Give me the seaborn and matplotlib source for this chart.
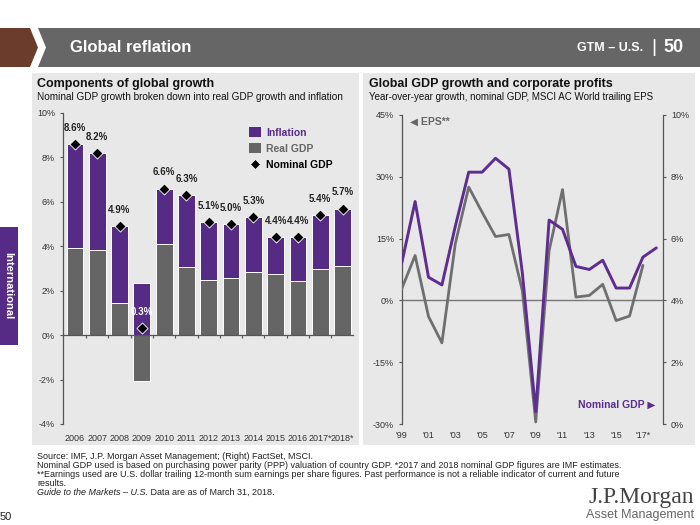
import numpy as np
import pandas as pd
import matplotlib
matplotlib.use("Agg")
import matplotlib.pyplot as plt
import seaborn as sns
from matplotlib.patches import Rectangle, Polygon, Patch
from matplotlib.lines import Line2D
from matplotlib.ticker import FuncFormatter, FixedLocator

# ---------------- data ----------------
years = ["2006", "2007", "2008", "2009", "2010", "2011", "2012", "2013",
         "2014", "2015", "2016", "2017*", "2018*"]
real_gdp = [3.93, 3.83, 1.43, -2.05, 4.10, 3.08, 2.48, 2.58, 2.82, 2.74, 2.45, 3.00, 3.10]
inflation = [4.67, 4.37, 3.47, 2.35, 2.50, 3.22, 2.62, 2.42, 2.48, 1.66, 1.95, 2.40, 2.60]
nominal_gdp = [8.6, 8.2, 4.9, 0.3, 6.6, 6.3, 5.1, 5.0, 5.3, 4.4, 4.4, 5.4, 5.7]

eps_years = list(range(1999, 2018))
eps_growth = [2.8, 10.9, -3.9, -10.3, 13.8, 27.5, 21.4, 15.5, 16.0, 2.4,
              -29.5, 12.1, 26.9, 0.8, 1.2, 3.9, -4.9, -3.8, 8.5]
gdp_years = list(range(1999, 2019))
gdp_growth = [5.2, 7.2, 4.75, 4.5, 6.4, 8.15, 8.15, 8.6, 8.25, 4.9,
              0.4, 6.6, 6.3, 5.1, 5.0, 5.3, 4.4, 4.4, 5.4, 5.7]
line_tick_years = list(range(1999, 2018, 2))
line_tick_labels = ["'99", "'01", "'03", "'05", "'07", "'09", "'11", "'13", "'15", "'17*"]

# ---------------- style ----------------
sns.set_theme(style="white")
plt.rcParams["font.family"] = ["Liberation Sans", "DejaVu Sans"]
PURPLE = "#562b85"
LPURPLE = "#5e2d91"
BARGRAY = "#656565"
LINEGRAY = "#6f6f6f"
PANEL = "#e8e8e8"
TXT = "#333333"
NARROW = ["Liberation Sans Narrow", "Liberation Sans", "DejaVu Sans"]

fig = plt.figure(figsize=(7, 5.25), dpi=100)

# background / decoration layer in pixel coordinates
bg = fig.add_axes([0, 0, 1, 1], zorder=-1)
bg.set_xlim(0, 700)
bg.set_ylim(525, 0)
bg.axis("off")

# banner
bg.add_patch(Polygon([(38, 28), (700, 28), (700, 67), (38, 67), (46, 47.5)],
                     closed=True, color="#666666", lw=0))
bg.add_patch(Polygon([(0, 28), (30, 28), (38, 47.5), (30, 67), (0, 67)],
                     closed=True, color="#6b3b2b", lw=0))
bg.text(70, 47.5, "Global reflation", color="white", fontsize=12, fontweight="bold",
        va="center", ha="left", family=NARROW)
bg.text(643, 48, "GTM – U.S.", color="white", fontsize=9, fontweight="bold",
        va="center", ha="right", family=NARROW)
bg.text(654, 47, "|", color="white", fontsize=14, va="center", ha="center", family=NARROW)
bg.text(684, 47.5, "50", color="white", fontsize=13, fontweight="bold",
        va="center", ha="right", family=NARROW)

# panels
bg.add_patch(Rectangle((32, 73), 327, 372, color=PANEL, lw=0))
bg.add_patch(Rectangle((363, 73), 332, 372, color=PANEL, lw=0))

# side tab
bg.add_patch(Rectangle((0, 227), 18, 118, color=PURPLE, lw=0))
bg.text(8, 286, "International", color="white", fontsize=8, fontweight="bold",
        rotation=270, va="center", ha="center")

# titles
bg.text(37, 84, "Components of global growth", fontsize=9, fontweight="bold",
        color="#111111", va="center")
bg.text(37, 97.5, "Nominal GDP growth broken down into real GDP growth and inflation",
        fontsize=7.2, color="#111111", va="center")
bg.text(369, 84, "Global GDP growth and corporate profits", fontsize=9,
        fontweight="bold", color="#111111", va="center")
bg.text(369, 97.5, "Year-over-year growth, nominal GDP, MSCI AC World trailing EPS",
        fontsize=7.0, color="#111111", va="center")

# footnotes
fn = 6.5
bg.text(37, 456.5, "Source: IMF, J.P. Morgan Asset Management; (Right) FactSet, MSCI.",
        fontsize=fn, color="#222222", va="center")
bg.text(37, 465.5, "Nominal GDP used is based on purchasing power parity (PPP) valuation of "
        "country GDP. *2017 and 2018 nominal GDP figures are IMF estimates.",
        fontsize=fn, color="#222222", va="center")
bg.text(37, 474.5, "**Earnings used are U.S. dollar trailing 12-month sum earnings per share "
        "figures. Past performance is not a reliable indicator of current and future",
        fontsize=fn, color="#222222", va="center")
bg.text(37, 483.5, "results.", fontsize=fn, color="#222222", va="center")
t_it = bg.text(37, 492.5, "Guide to the Markets – U.S.", fontsize=fn, color="#222222",
               va="center", style="italic")
bg.annotate(" Data are as of March 31, 2018.", xy=(1, 0.5), xycoords=t_it,
            fontsize=fn, color="#222222", va="center", ha="left")
bg.text(0, 517, "50", fontsize=8, color="#222222", va="center")
bg.text(694, 497, "J.P.Morgan", fontsize=17, color="#444444", va="center", ha="right",
        family=["Liberation Serif", "DejaVu Serif"])
bg.text(694, 515, "Asset Management", fontsize=9, color="#666666", va="center",
        ha="right", family=NARROW)

# ---------------- left chart ----------------
df_left = pd.DataFrame({
    "year": years,
    "real": real_gdp,
    "top": [max(r, 0) + i for r, i in zip(real_gdp, inflation)],
    "nominal": nominal_gdp,
})
ax1 = fig.add_axes([62.7 / 700, 1 - 424 / 525, (353 - 62.7) / 700, (424 - 113) / 525])
ax1.set_facecolor("none")
sns.barplot(data=df_left, x="year", y="top", color=PURPLE, saturation=1, width=0.75,
            edgecolor="white", linewidth=0.7, ax=ax1, zorder=2)
sns.barplot(data=df_left, x="year", y="real", color=BARGRAY, saturation=1, width=0.75,
            edgecolor="white", linewidth=0.7, ax=ax1, zorder=3)
pos = np.arange(len(years))
ax1.scatter(pos, nominal_gdp, marker="D", s=32, color="black", edgecolor="white",
            linewidth=0.6, zorder=6)
for i, v in enumerate(nominal_gdp):
    c = "white" if v < 1 else "#222222"
    ax1.text(i, v + 0.5, f"{v:.1f}%", ha="center", va="bottom", fontsize=7,
             fontweight="bold", color=c, zorder=7)

ax1.set_xlim(-0.55, len(years) - 0.53)
ax1.set_ylim(-4, 10)
ax1.set_yticks(np.arange(-4, 11, 2))
ax1.yaxis.set_major_formatter(FuncFormatter(lambda v, p: f"{v:.0f}%"))
ax1.set_xlabel("")
ax1.set_ylabel("")
for s in ["top", "right"]:
    ax1.spines[s].set_visible(False)
ax1.spines["left"].set_color("#555555")
ax1.spines["left"].set_linewidth(0.9)
ax1.spines["bottom"].set_position(("data", 0))
ax1.spines["bottom"].set_color("#555555")
ax1.spines["bottom"].set_linewidth(0.9)
ax1.spines["bottom"].set_zorder(8)
ax1.set_xticks(pos)
ax1.set_xticklabels(years)
ax1.xaxis.set_minor_locator(FixedLocator(pos + 0.5))
ax1.tick_params(axis="x", which="major", length=0, pad=71, labelsize=6.5, labelcolor=TXT)
ax1.tick_params(axis="x", which="minor", length=2.5, width=0.8, color="#555555",
                direction="out", bottom=True)
ax1.tick_params(axis="y", length=2.5, width=0.8, color="#555555", direction="out",
                left=True, labelsize=6.5, labelcolor=TXT, pad=3)

handles = [Patch(facecolor=PURPLE, edgecolor="none"),
           Patch(facecolor=BARGRAY, edgecolor="none"),
           Line2D([], [], marker="D", color="black", linestyle="none", markersize=5.5,
                  markeredgecolor="white", markeredgewidth=0.5)]
leg = ax1.legend(handles, ["Inflation", "Real GDP", "Nominal GDP"], loc="upper left",
                 bbox_to_anchor=(0.61, 0.985), frameon=False, handlelength=1.1,
                 handleheight=1.1, handletextpad=0.5, labelspacing=0.55,
                 prop={"size": 7.5, "weight": "bold"},
                 labelcolor=[PURPLE, BARGRAY, "black"])

# ---------------- right chart ----------------
df_eps = pd.DataFrame({"year": eps_years, "eps": eps_growth})
df_gdp = pd.DataFrame({"year": gdp_years, "gdp": gdp_growth})
ax2 = fig.add_axes([401.7 / 700, 1 - 424 / 525, (663.3 - 401.7) / 700, (424 - 115) / 525])
ax2.set_facecolor("none")
ax2.axhline(0, color="#777777", lw=1, zorder=1)
sns.lineplot(data=df_eps, x="year", y="eps", color=LINEGRAY, lw=2, ax=ax2, zorder=3)
ax3 = ax2.twinx()
ax3.set_facecolor("none")
sns.lineplot(data=df_gdp, x="year", y="gdp", color=LPURPLE, lw=2.1, ax=ax3, zorder=4)

ax2.set_xlim(1999, 2018.52)
ax2.set_ylim(-30, 45)
ax2.set_yticks(np.arange(-30, 46, 15))
ax2.yaxis.set_major_formatter(FuncFormatter(lambda v, p: f"{v:.0f}%"))
ax3.set_ylim(0, 10)
ax3.set_yticks(np.arange(0, 11, 2))
ax3.yaxis.set_major_formatter(FuncFormatter(lambda v, p: f"{v:.0f}%"))
ax2.set_xticks(line_tick_years)
ax2.set_xticklabels(line_tick_labels)
for a in (ax2, ax3):
    a.set_xlabel("")
    a.set_ylabel("")
    for s in ["top", "bottom", "left", "right"]:
        a.spines[s].set_visible(False)
ax2.spines["left"].set_visible(True)
ax2.spines["left"].set_color("#555555")
ax2.spines["left"].set_linewidth(0.9)
ax3.spines["right"].set_visible(True)
ax3.spines["right"].set_color("#555555")
ax3.spines["right"].set_linewidth(0.9)
ax2.tick_params(axis="x", length=0, labelsize=6.5, labelcolor=TXT, pad=5)
ax2.tick_params(axis="y", length=2.5, width=0.8, color="#555555", direction="out",
                left=True, labelsize=6.5, labelcolor=TXT, pad=3)
ax3.tick_params(axis="y", length=2.5, width=0.8, color="#555555", direction="out",
                right=True, labelsize=6.5, labelcolor=TXT, pad=3)
if ax2.get_legend():
    ax2.get_legend().remove()
if ax3.get_legend():
    ax3.get_legend().remove()

bg.text(410, 122, "◀ EPS**", fontsize=7.5, fontweight="bold", color="#666666",
        va="center", ha="left", family=["Liberation Sans", "DejaVu Sans"])
bg.text(655, 405, "Nominal GDP ▶", fontsize=7.5, fontweight="bold", color=LPURPLE,
        va="center", ha="right", family=["Liberation Sans", "DejaVu Sans"])

fig.savefig("out.png", dpi=100)
